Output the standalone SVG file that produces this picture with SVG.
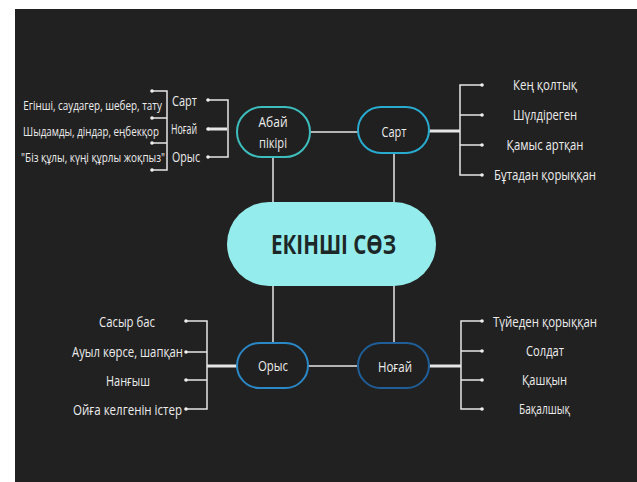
<svg xmlns="http://www.w3.org/2000/svg" width="637" height="482" viewBox="0 0 637 482">
<style>
.ln{stroke:#e6e6e6;stroke-width:1.5;fill:none}
.thk{stroke:#e6e6e6;stroke-width:3;fill:none}
.dot{fill:#f0f0f0}
.t{font-family:"Open Sans","Noto Sans","DejaVu Sans",sans-serif;fill:#ececec;font-size:14px}
.s{font-size:13px}
.node{fill:#202020;stroke-width:2}
.c{text-anchor:middle}
</style>
<rect x="0" y="0" width="637" height="482" fill="#ffffff"/>
<rect x="15" y="9" width="622" height="473" fill="#212121"/>
<g id="connectors">
<line class="ln" x1="310" y1="132" x2="358" y2="132"/>
<line class="ln" x1="308" y1="366" x2="358" y2="366"/>
<line class="ln" x1="273" y1="157" x2="273" y2="202"/>
<line class="ln" x1="394" y1="153" x2="394" y2="202"/>
<line class="ln" x1="273" y1="286" x2="273" y2="343"/>
<line class="ln" x1="394" y1="286" x2="394" y2="343"/>
<line class="thk" x1="429" y1="131" x2="460" y2="131"/>
<path class="ln" d="M482 85H460V175H482M460 115H482M460 145H482"/>
<line class="thk" x1="429" y1="366" x2="461" y2="366"/>
<path class="ln" d="M482 321H461V409H482M461 351H482M461 380H482"/>
<line class="thk" x1="207" y1="366" x2="237" y2="366"/>
<path class="ln" d="M186 321H207V409H186M207 352H186M207 380H186"/>
<path class="ln" d="M208 100H228V157H208"/>
<line class="thk" x1="208" y1="129" x2="227" y2="129"/>
<path class="ln" d="M152 91H167V170H152M167 118H152M167 143H152"/>
<g class="dot">
<circle cx="482" cy="85" r="1.8"/><circle cx="482" cy="115" r="1.8"/><circle cx="482" cy="145" r="1.8"/><circle cx="482" cy="175" r="1.8"/>
<circle cx="482" cy="321" r="1.8"/><circle cx="482" cy="351" r="1.8"/><circle cx="482" cy="380" r="1.8"/><circle cx="482" cy="409" r="1.8"/>
<circle cx="186" cy="321" r="1.8"/><circle cx="186" cy="352" r="1.8"/><circle cx="186" cy="380" r="1.8"/><circle cx="186" cy="409" r="1.8"/>
<circle cx="208" cy="100" r="1.8"/><circle cx="208" cy="129" r="1.8"/><circle cx="208" cy="157" r="1.8"/>
<circle cx="152" cy="91" r="1.8"/><circle cx="152" cy="118" r="1.8"/><circle cx="152" cy="143" r="1.8"/><circle cx="152" cy="170" r="1.8"/>
</g>
</g>
<g id="center">
<rect x="227" y="202" width="209" height="84" rx="42" fill="#94ecec"/>
<text x="333.5" y="254" class="c" font-family="'Open Sans','Noto Sans',sans-serif" font-weight="bold" font-size="27" fill="#1c2828" textLength="125" lengthAdjust="spacingAndGlyphs">ЕКІНШІ СӨЗ</text>
</g>
<g id="abai">
<rect class="node" x="237" y="107" width="73" height="50" rx="25" stroke="#3dbdbd"/>
<text class="t c" x="273" y="127" textLength="29" lengthAdjust="spacingAndGlyphs">Абай</text>
<text class="t c" x="273" y="148" textLength="28" lengthAdjust="spacingAndGlyphs">пікірі</text>
</g>
<g id="sart">
<rect class="node" x="358" y="107" width="71" height="46" rx="23" stroke="#29aacf"/>
<text class="t c" x="394" y="137" textLength="25" lengthAdjust="spacingAndGlyphs">Сарт</text>
</g>
<g id="orys">
<rect class="node" x="237" y="343" width="71" height="45" rx="22.5" stroke="#2a88c6"/>
<text class="t c" x="273" y="371" textLength="30" lengthAdjust="spacingAndGlyphs">Орыс</text>
</g>
<g id="nogai">
<rect class="node" x="358" y="343" width="71" height="45" rx="22.5" stroke="#1f5e98"/>
<text class="t c" x="395" y="372" textLength="34" lengthAdjust="spacingAndGlyphs">Ноғай</text>
</g>
<g id="abai-labels">
<text class="t" x="172" y="106" textLength="25" lengthAdjust="spacingAndGlyphs">Сарт</text>
<text class="t" x="171" y="134" textLength="26" lengthAdjust="spacingAndGlyphs">Ноғай</text>
<text class="t" x="172" y="162" textLength="28" lengthAdjust="spacingAndGlyphs">Орыс</text>
<text class="t s c" transform="translate(92.5,110) scale(0.73,1)" x="0" y="0" textLength="190" lengthAdjust="spacingAndGlyphs">Егінші, саудагер, шебер, тату</text>
<text class="t s c" transform="translate(91,136) scale(0.73,1)" x="0" y="0" textLength="186" lengthAdjust="spacingAndGlyphs">Шыдамды, діндар,  еңбекқор</text>
<text class="t s c" transform="translate(93,162) scale(0.73,1)" x="0" y="0" textLength="197" lengthAdjust="spacingAndGlyphs">"Біз құлы, күңі құрлы  жоқпыз"</text>
</g>
<g id="sart-labels">
<text class="t c" x="545" y="90" textLength="64" lengthAdjust="spacingAndGlyphs">Кең қолтық</text>
<text class="t c" x="545" y="120" textLength="64" lengthAdjust="spacingAndGlyphs">Шүлдіреген</text>
<text class="t c" x="545" y="150" textLength="77" lengthAdjust="spacingAndGlyphs">Қамыс артқан</text>
<text class="t c" x="545" y="180" textLength="102" lengthAdjust="spacingAndGlyphs">Бұтадан қорыққан</text>
</g>
<g id="orys-labels">
<text class="t c" x="127" y="327" textLength="56" lengthAdjust="spacingAndGlyphs">Сасыр бас</text>
<text class="t c" x="127.5" y="357" textLength="111" lengthAdjust="spacingAndGlyphs">Ауыл көрсе, шапқан</text>
<text class="t c" x="128" y="386" textLength="44" lengthAdjust="spacingAndGlyphs">Нанғыш</text>
<text class="t c" x="127.5" y="415" textLength="109" lengthAdjust="spacingAndGlyphs">Ойға келгенін істер</text>
</g>
<g id="nogai-labels">
<text class="t c" x="545" y="327" textLength="104" lengthAdjust="spacingAndGlyphs">Түйеден қорыққан</text>
<text class="t c" x="545" y="356" textLength="38" lengthAdjust="spacingAndGlyphs">Солдат</text>
<text class="t c" x="544.5" y="385" textLength="45" lengthAdjust="spacingAndGlyphs">Қашқын</text>
<text class="t c" x="544.5" y="414" textLength="51" lengthAdjust="spacingAndGlyphs">Бақалшық</text>
</g>
</svg>
